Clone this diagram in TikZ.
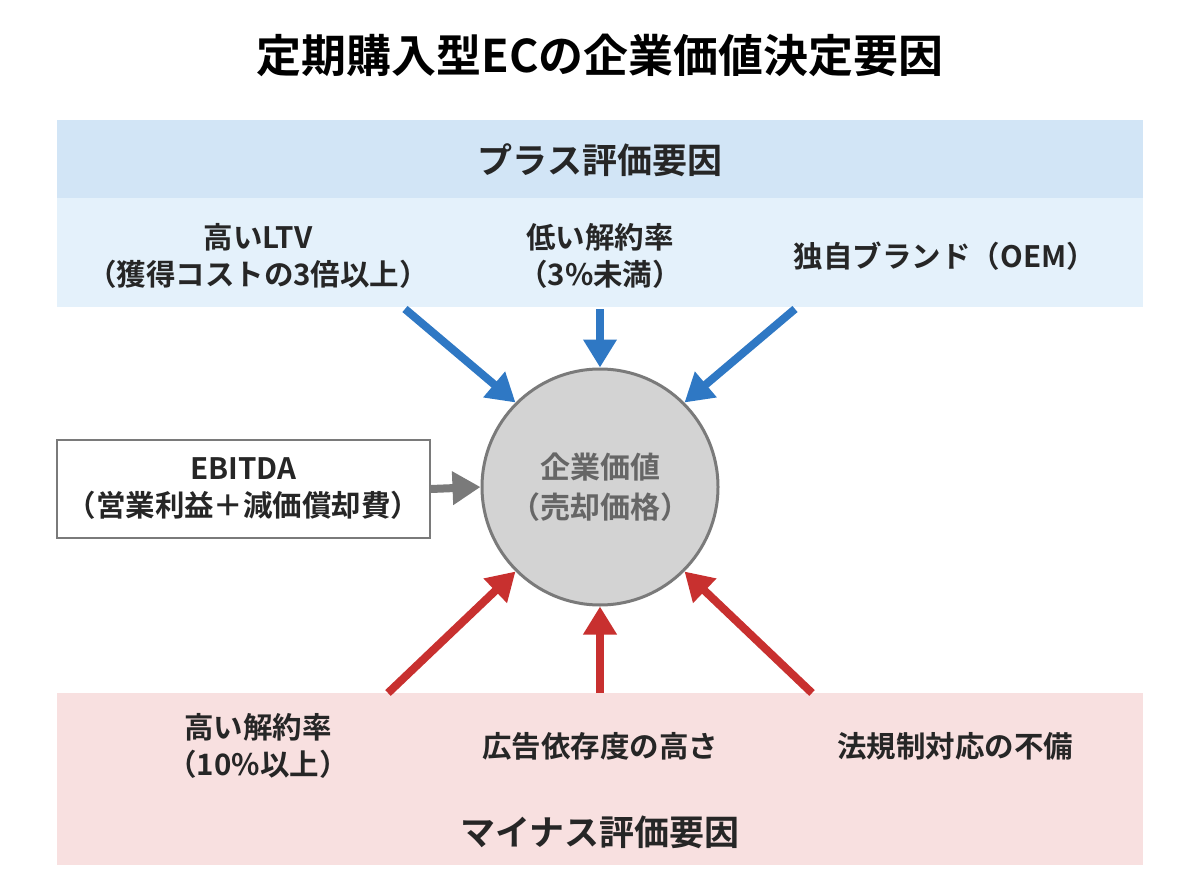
\documentclass[tikz,border=0pt]{standalone}
\usepackage{fontspec}
\setmainfont{Noto Sans CJK JP}[BoldFont={* Bold}]
\usetikzlibrary{arrows.meta}
\definecolor{hdrblue}{HTML}{D2E5F6}
\definecolor{bodyblue}{HTML}{E4F1FB}
\definecolor{pink}{HTML}{F8E0E0}
\definecolor{ablue}{HTML}{2F78C4}
\definecolor{ared}{HTML}{C8302F}
\definecolor{cgray}{HTML}{D3D3D3}
\definecolor{bgray}{HTML}{7A7A7A}
\begin{document}
\begin{tikzpicture}[x=1pt,y=-1pt,
  lbl/.style={font=\bfseries\fontsize{29.5}{37}\selectfont,align=center,text=black!85},
  hdr/.style={font=\bfseries\fontsize{35}{40}\selectfont,text=black!85},
  arr/.style={line width=8pt,-{Triangle[length=28pt,width=32pt]}}]
\useasboundingbox (0,0) rectangle (1200,896);
\fill[white] (0,0) rectangle (1200,896);
\node[font=\bfseries\fontsize{45}{50}\selectfont] (title) at (600,55) {定期購入型ECの企業価値決定要因};
\fill[hdrblue] (57,120) rectangle (1143,198);
\fill[bodyblue] (57,198) rectangle (1143,307);
\node[hdr] (plus) at (600,160) {プラス評価要因};
\node[lbl] (p1) at (258,256) {高いLTV\\（獲得コストの3倍以上）};
\node[lbl] (p2) at (600,256) {低い解約率\\（3\%未満）};
\node[lbl] (p3) at (945,256) {独自ブランド（OEM）};
\fill[pink] (57,693) rectangle (1143,865);
\node[hdr] (minus) at (600,832) {マイナス評価要因};
\node[lbl] (m1) at (258,746) {高い解約率\\（10\%以上）};
\node[lbl] (m2) at (600,746) {広告依存度の高さ};
\node[lbl] (m3) at (955,746) {法規制対応の不備};
\node[circle,draw=bgray,line width=3pt,fill=cgray,minimum size=236pt,inner sep=0pt,
  font=\bfseries\fontsize{30}{40}\selectfont,text=black!60,align=center] (v) at (600,487) {企業価値\\（売却価格）};
\node[draw=bgray,line width=2pt,fill=white,minimum width=373pt,minimum height=98pt,lbl] (e) at (243.5,489) {EBITDA\\（営業利益＋減価償却費）};
\coordinate (b1) at (405,309); \coordinate (b2) at (600,309); \coordinate (b3) at (795,309);
\coordinate (r1) at (388,693); \coordinate (r2) at (600,693); \coordinate (r3) at (812,693);
\draw[arr,ablue] (b1) -- (v.135);
\draw[arr,ablue] (b2) -- (v.north);
\draw[arr,ablue] (b3) -- (v.45);
\draw[arr,ared] (r1) -- (v.-135);
\draw[arr,ared] (r2) -- (v.south);
\draw[arr,ared] (r3) -- (v.-45);
\draw[arr,bgray] (e.east) -- (v.west);
\end{tikzpicture}
\end{document}
